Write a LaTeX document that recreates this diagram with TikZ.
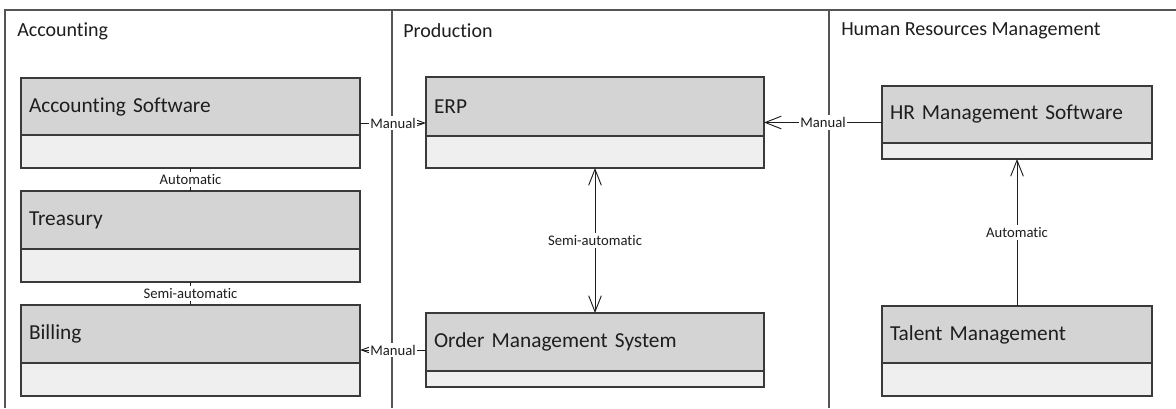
\documentclass[tikz,border=0pt]{standalone}
\usepackage{fontspec}
\setmainfont{Carlito}[Ligatures=NoCommon]
\usetikzlibrary{arrows.meta}

\definecolor{headfill}{HTML}{D4D4D4}
\definecolor{bodyfill}{HTML}{EFEFEF}
\definecolor{edgegray}{HTML}{3A3A3A}
\definecolor{lanegray}{HTML}{555555}
\definecolor{inkgray}{HTML}{1E1E1E}

% #1 name, #2 left, #3 top, #4 right, #5 bottom, #6 bottom of header, #7 label
\newcommand\sysbox[7]{%
  \node[sysbody, anchor=north west,
        minimum width={(#4-#2)*0.75pt}, minimum height={(#5-#3)*0.75pt}]
        (#1) at (#2,#3) {};
  \node[syshead, anchor=north west,
        minimum width={(#4-#2)*0.75pt}, minimum height={(#6-#3)*0.75pt},
        text width={(#4-#2-16)*0.75pt}]
        (#1-head) at (#2,#3) {#7};
}

\begin{document}
\begin{tikzpicture}[x=0.75pt, y=-0.75pt,
  lane/.style={draw=lanegray, line width=0.8pt},
  lanetitle/.style={anchor=west, inner sep=0pt, text=inkgray,
                    font=\fontsize{15}{18}\selectfont},
  sysbody/.style={draw=edgegray, fill=bodyfill, line width=0.9pt,
                  rectangle, inner sep=0pt, outer sep=0pt},
  syshead/.style={draw=edgegray, fill=headfill, line width=0.9pt,
                  rectangle, inner xsep=6pt, inner ysep=0pt, outer sep=0pt,
                  align=left, text=inkgray, font=\fontsize{16}{19}\selectfont},
  conn/.style={draw=inkgray, line width=0.7pt},
  clabel/.style={fill=white, inner xsep=1pt, inner ysep=1.5pt, text=inkgray,
                 font=\fontsize{11}{13}\selectfont},
  bigbarb/.tip={Straight Barb[length=12pt, width=9.5pt, line width=0.7pt]},
  smallbarb/.tip={Straight Barb[length=7pt, width=5pt, line width=0.7pt]}
]
\useasboundingbox (0,0) rectangle (1176,408);
\fill[white] (0,0) rectangle (1176,408);

% swimlane frame
\draw[lane] (1176,10) -- (5,10) -- (5,408);
\draw[lane] (392,10) -- (392,408);
\draw[lane] (829,10) -- (829,408);

\node[lanetitle] (laneacc) at (17,31) {Accounting};
\node[lanetitle] (laneprod) at (403,31) {Production};
\node[lanetitle] (lanehr) at (841,31) {Human Resources Management};

% systems
\sysbox{acc}{21}{78}{360}{168}{135}{Accounting Software}
\sysbox{tre}{21}{191}{360}{282}{249}{Treasury}
\sysbox{bil}{21}{305}{360}{396}{363}{Billing}
\sysbox{erp}{426}{77}{764}{168}{136}{ERP}
\sysbox{oms}{426}{313}{764}{387}{371}{Order Management System}
\sysbox{hr}{882}{86}{1152}{159}{143}{HR Management Software}
\sysbox{tal}{882}{306}{1152}{396}{363}{Talent Management}

% interfaces
\draw[conn, -{smallbarb}] (acc.east) -- node[clabel] {Manual} (acc.east -| erp.west);
\draw[conn, -{bigbarb}] (hr.west) -- node[clabel] {Manual} (hr.west -| erp.east);
\draw[conn, -{smallbarb}] (oms.west) -- node[clabel] {Manual} (oms.west -| bil.east);
\draw[conn, {bigbarb}-{bigbarb}] (erp.south) -- node[clabel] {Semi-automatic} (oms.north);
\draw[conn] (acc.south) -- node[clabel] {Automatic} (tre.north);
\draw[conn] (tre.south) -- node[clabel] {Semi-automatic} (bil.north);
\draw[conn, -{bigbarb}] (tal.north) -- node[clabel] {Automatic} (hr.south);
\end{tikzpicture}
\end{document}
